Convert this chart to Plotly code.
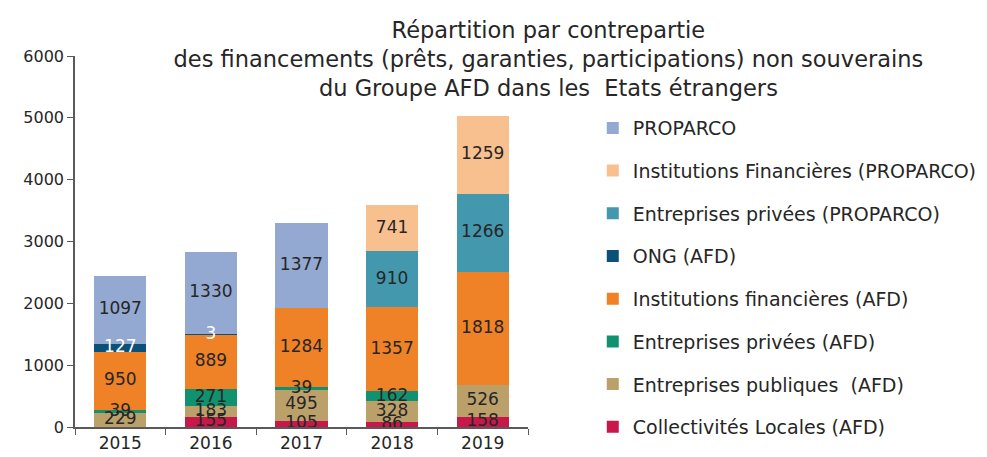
import plotly.graph_objects as go

years = ["2015", "2016", "2017", "2018", "2019"]

# Stack order: bottom to top
collectivites_afd = [0, 155, 105, 86, 158]
entreprises_publiques_afd = [229, 183, 495, 328, 526]
entreprises_privees_afd = [39, 271, 39, 162, 0]
institutions_fin_afd = [950, 889, 1284, 1357, 1818]
ong_afd = [127, 3, 0, 0, 0]
entreprises_privees_proparco = [0, 0, 0, 910, 1266]
institutions_fin_proparco = [0, 0, 0, 741, 1259]
proparco = [1097, 1330, 1377, 0, 0]

series = [
    ("Collectivités Locales (AFD)", collectivites_afd, "#C8174A", "#262626"),
    ("Entreprises publiques  (AFD)", entreprises_publiques_afd, "#BCA06A", "#262626"),
    ("Entreprises privées (AFD)", entreprises_privees_afd, "#109270", "#262626"),
    ("Institutions financières (AFD)", institutions_fin_afd, "#EF8126", "#262626"),
    ("ONG (AFD)", ong_afd, "#0B5077", "#FFFFFF"),
    ("Entreprises privées (PROPARCO)", entreprises_privees_proparco, "#4398AE", "#262626"),
    ("Institutions Financières (PROPARCO)", institutions_fin_proparco, "#F9C08F", "#262626"),
    ("PROPARCO", proparco, "#94A9D1", "#262626"),
]

FONT = "DejaVu Sans"
n = len(series)

fig = go.Figure()
base = [0] * len(years)
label_traces = []
for i, (name, vals, color, tcolor) in enumerate(series):
    y = [v if v else None for v in vals]
    fig.add_trace(go.Bar(
        x=years, y=y, name=name,
        marker=dict(color=color, line=dict(width=0)),
        legendgroup=str(i), legendrank=n - i,
    ))
    mids = [b + v / 2 if v else None for b, v in zip(base, vals)]
    txt = [str(v) if v else "" for v in vals]
    label_traces.append(go.Scatter(
        x=years, y=mids, text=txt, mode="text",
        textfont=dict(color=tcolor, size=17, family=FONT),
        showlegend=False, hoverinfo="skip", cliponaxis=False,
    ))
    base = [b + v for b, v in zip(base, vals)]

for t in label_traces:
    fig.add_trace(t)

fig.update_layout(
    barmode="stack",
    bargap=0.425,
    width=979, height=449,
    margin=dict(l=67, r=459, t=48, b=30, autoexpand=False),
    paper_bgcolor="white", plot_bgcolor="white",
    font=dict(family=FONT, size=17, color="#262626"),
    title=dict(
        text="Répartition par contrepartie<br>des financements (prêts, garanties, participations) non souverains<br>du Groupe AFD dans les  Etats étrangers",
        x=0.552, xanchor="center", xref="container",
        y=0.934, yanchor="top", yref="container",
        font=dict(family=FONT, size=22.5, color="#262626"),
    ),
    legend=dict(
        traceorder="grouped",
        tracegroupgap=15,
        x=1.143, xanchor="left", y=0.857, yanchor="top",
        font=dict(family=FONT, size=19, color="#262626"),
        bgcolor="rgba(0,0,0,0)",
        maxheight=1,
    ),
    showlegend=True,
)

fig.update_yaxes(
    range=[0, 6000], tickvals=[0, 1000, 2000, 3000, 4000, 5000, 6000],
    showgrid=False, zeroline=False, automargin=False,
    showline=True, linecolor="#595959", linewidth=1.5,
    ticks="outside", ticklen=6, tickcolor="#595959",
    tickfont=dict(size=16, family=FONT, color="#262626"),
)
fig.update_xaxes(
    showgrid=False, showline=True, linecolor="#595959", linewidth=1.5,
    automargin=False,
    ticks="outside", ticklen=6, tickcolor="#595959", tickson="boundaries",
    tickfont=dict(size=17, family=FONT, color="#262626"),
)

fig.write_html("out.html")
